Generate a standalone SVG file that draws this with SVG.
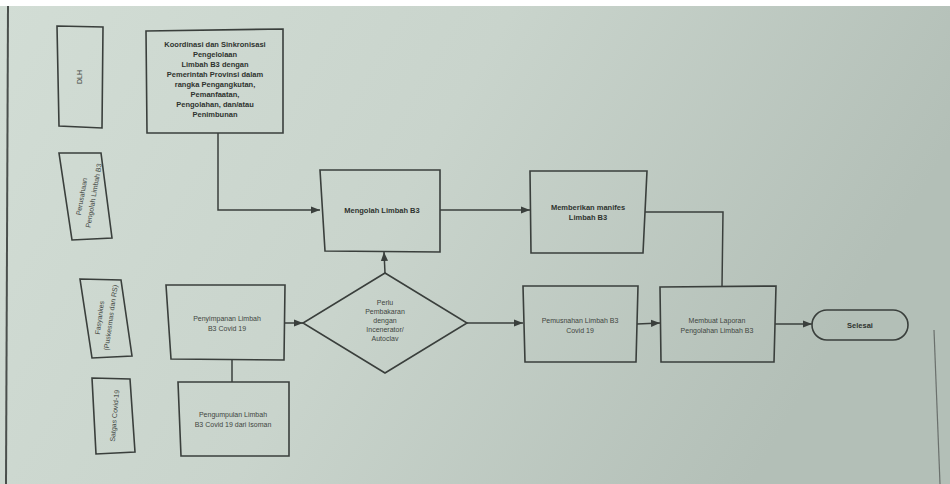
<svg xmlns="http://www.w3.org/2000/svg" width="950" height="484" viewBox="0 0 950 484">
<defs>
<linearGradient id="bg" x1="0" y1="0" x2="1" y2="0.3">
<stop offset="0" stop-color="#d2ddd5"/>
<stop offset="0.5" stop-color="#c9d4cc"/>
<stop offset="1" stop-color="#b3bfb7"/>
</linearGradient>
<marker id="ah" viewBox="0 0 10 10" refX="10" refY="5" markerWidth="6" markerHeight="6" orient="auto">
<path d="M0,1 L10,5 L0,9 z" fill="#3a3f3c"/>
</marker>
<style>
.box{fill:none;stroke:#3a3f3c;stroke-width:1.6}
.lane{fill:none;stroke:#3a3f3c;stroke-width:1.6}
.t{font-family:"Liberation Sans",Arial,sans-serif;font-size:7px;fill:#3f4541;text-anchor:middle}
.tb{font-family:"Liberation Sans",Arial,sans-serif;font-size:7.5px;fill:#2e332f;text-anchor:middle;font-weight:bold}
.c{fill:none;stroke:#3a3f3c;stroke-width:1.5}
</style>
</defs>
<rect x="0" y="0" width="950" height="484" fill="url(#bg)"/>
<rect x="0" y="0" width="950" height="6" fill="#ffffff"/>
<line x1="8" y1="6" x2="6" y2="484" stroke="#4a4f4c" stroke-width="2"/>
<line x1="934" y1="330" x2="940" y2="484" stroke="#6a706c" stroke-width="1.2"/>

<g id="lane-dlh">
<polygon class="lane" points="57,26 103,27 102,128 59,126"/>
<text class="t" transform="translate(82,77) rotate(-90)">DLH</text>
</g>
<g id="lane-perusahaan">
<polygon class="lane" points="59,153 101,153 112,238 72,240"/>
<text class="t" transform="translate(84,197) rotate(-80)">Perusahaan</text>
<text class="t" transform="translate(96,196) rotate(-80)">Pengolah Limbah B3</text>
</g>
<g id="lane-fasyankes">
<polygon class="lane" points="80,279 121,280 132,356 92,358"/>
<text class="t" transform="translate(102,318) rotate(-82)">Fasyankes</text>
<text class="t" transform="translate(113,318) rotate(-82)">(Puskesmas dan RS)</text>
</g>
<g id="lane-satgas">
<polygon class="lane" points="92,378 130,379 135,452 96,454"/>
<text class="t" transform="translate(117,416) rotate(-85)">Satgas Covid-19</text>
</g>

<g id="koordinasi">
<polygon class="box" points="146,31 283,29 283,133 147,133"/>
<text class="tb" x="215" y="47">Koordinasi dan Sinkronisasi</text>
<text class="tb" x="215" y="57">Pengelolaan</text>
<text class="tb" x="215" y="67">Limbah B3 dengan</text>
<text class="tb" x="215" y="77">Pemerintah Provinsi dalam</text>
<text class="tb" x="215" y="87">rangka Pengangkutan,</text>
<text class="tb" x="215" y="97">Pemanfaatan,</text>
<text class="tb" x="215" y="107">Pengolahan, dan/atau</text>
<text class="tb" x="215" y="117">Penimbunan</text>
</g>

<g id="mengolah">
<polygon class="box" points="320,170 440,170 440,252 325,251"/>
<text class="tb" x="382" y="213">Mengolah Limbah B3</text>
</g>

<g id="manifes">
<polygon class="box" points="530,171 647,171 643,253 531,253"/>
<text class="tb" x="588" y="210">Memberikan manifes</text>
<text class="tb" x="588" y="220">Limbah B3</text>
</g>

<g id="penyimpanan">
<polygon class="box" points="166,285 285,285 284,360 171,359"/>
<text class="t" x="227" y="321">Penyimpanan Limbah</text>
<text class="t" x="227" y="331">B3 Covid 19</text>
</g>

<g id="pengumpulan">
<polygon class="box" points="178,382 289,382 289,456 181,456"/>
<text class="t" x="233" y="417">Pengumpulan Limbah</text>
<text class="t" x="233" y="427">B3 Covid 19 dari Isoman</text>
</g>

<g id="keputusan">
<polygon class="box" points="385,273 467,323 385,373 303,323"/>
<text class="t" x="385" y="305">Perlu</text>
<text class="t" x="385" y="314">Pembakaran</text>
<text class="t" x="385" y="323">dengan</text>
<text class="t" x="385" y="332">Incenerator/</text>
<text class="t" x="385" y="341">Autoclav</text>
</g>

<g id="pemusnahan">
<polygon class="box" points="523,286 638,286 636,362 525,362"/>
<text class="t" x="580" y="323">Pemusnahan Limbah B3</text>
<text class="t" x="580" y="333">Covid 19</text>
</g>

<g id="laporan">
<polygon class="box" points="660,287 776,286 774,362 661,362"/>
<text class="t" x="717" y="323">Membuat Laporan</text>
<text class="t" x="717" y="333">Pengolahan Limbah B3</text>
</g>

<g id="selesai">
<rect class="box" x="812" y="310" width="96" height="30" rx="15" ry="15"/>
<text class="tb" x="860" y="328">Selesai</text>
</g>

<g id="connectors">
<polyline class="c" points="218,133 218,210 320,210" marker-end="url(#ah)"/>
<line class="c" x1="440" y1="210" x2="530" y2="210" marker-end="url(#ah)"/>
<polyline class="c" points="645,212 723,212 722,287"/>
<line class="c" x1="285" y1="323" x2="303" y2="323" marker-end="url(#ah)"/>
<line class="c" x1="385" y1="273" x2="384" y2="252" marker-end="url(#ah)"/>
<line class="c" x1="467" y1="323" x2="523" y2="323" marker-end="url(#ah)"/>
<line class="c" x1="637" y1="324" x2="660" y2="323" marker-end="url(#ah)"/>
<line class="c" x1="775" y1="324" x2="812" y2="324" marker-end="url(#ah)"/>
<line class="c" x1="232" y1="382" x2="232" y2="360"/>
</g>
</svg>
